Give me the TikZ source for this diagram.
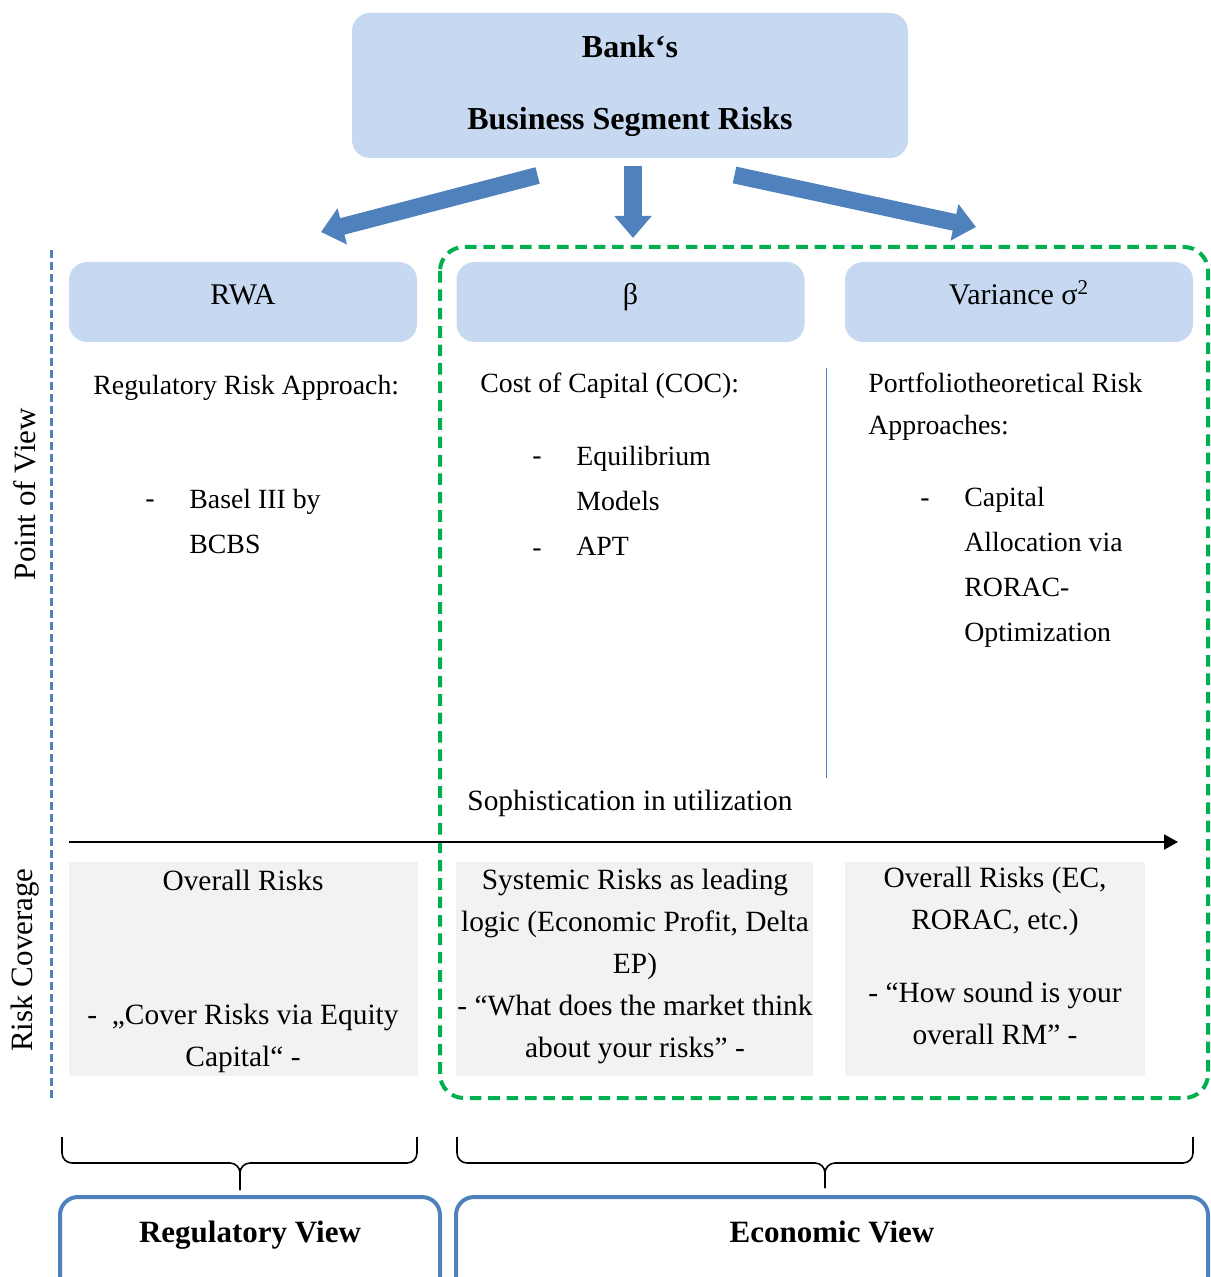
\documentclass[tikz,border=0pt]{standalone}
\usepackage{fontspec}
\setmainfont{Liberation Serif}
\usetikzlibrary{arrows.meta}
\definecolor{paleblue}{HTML}{C6D9F1}
\definecolor{steelblue}{HTML}{4F81BD}
\definecolor{dashgreen}{HTML}{00B050}
\definecolor{lightgrey}{HTML}{F2F2F2}
\newcommand{\upperfont}{\fontsize{13.9}{22.5}\selectfont}
\newcommand{\lowerfont}{\fontsize{14.7}{21}\selectfont}
\begin{document}
\begin{tikzpicture}[x=0.5pt,y=-0.5pt,
  headbox/.style={fill=paleblue,rounded corners=9pt,minimum width=174pt,minimum height=40pt,font=\fontsize{15}{18}\selectfont,text height=10pt,text depth=7pt},
  greybox/.style={fill=lightgrey,minimum height=107pt},
  viewbox/.style={draw=steelblue,line width=2pt,rounded corners=9pt},
  bigarrow/.style={steelblue,line width=8.5pt,-{Triangle[length=11pt,width=18pt]}},
  uppertxt/.style={font=\upperfont,inner sep=0pt,align=left},
  lowertxt/.style={font=\lowerfont,inner sep=0pt,align=center}]
\useasboundingbox (0,0) rectangle (1210,1277);
\clip (0,0) rectangle (1210,1277);
% top box and arrows
\node[fill=paleblue,rounded corners=9pt,minimum width=278pt,minimum height=72.5pt,font=\fontsize{16}{19}\selectfont\bfseries,align=center] (bank) at (630,85.5) {Bank‘s\\[17pt]Business Segment Risks};
\coordinate (lefttail) at (537.6,175.5);
\coordinate (lefttip) at (321,232);
\coordinate (midtail) at (633,166);
\coordinate (midtip) at (633,238);
\coordinate (righttail) at (734.5,175);
\coordinate (righttip) at (976,227);
\draw[bigarrow] (lefttail) -- (lefttip);
\draw[bigarrow,line width=9pt] (midtail) -- (midtip);
\draw[bigarrow] (righttail) -- (righttip);
% frames
\draw[steelblue,line width=1.5pt,dash pattern=on 4pt off 2pt] (51,250) -- (51,1098);
\draw[dashgreen,line width=2pt,dash pattern=on 5.8pt off 3.4pt,rounded corners=12pt] (440,247) rectangle (1208,1098);
\node[rotate=90,font=\fontsize{15.5}{18}\selectfont] (pov) at (25,494) {Point of View};
\node[rotate=90,font=\fontsize{15.5}{18}\selectfont] (cov) at (25,960) {Risk Coverage};
% header boxes
\node[headbox] (rwa) at (243,302) {RWA};
\node[headbox] (beta) at (630.5,302) {β};
\node[headbox] (var) at (1019,302) {Variance σ\textsuperscript{2}};
% approaches
\node[uppertxt,anchor=base west] (regapp) at (93,395) {Regulatory Risk Approach:};
\node[uppertxt,anchor=base west] (dash1) at (145,508) {-};
\node[uppertxt,anchor=north west] (basel) at (189,476.5) {\strut Basel III by\\BCBS};
\node[uppertxt,anchor=base west] (coc) at (480,393) {Cost of Capital (COC):};
\node[uppertxt,anchor=base west] (dash2) at (532,465) {-};
\node[uppertxt,anchor=base west] (dash3) at (532,556) {-};
\node[uppertxt,anchor=north west] (equil) at (576,433.5) {\strut Equilibrium\\Models\\APT};
\node[uppertxt,anchor=north west] (portf) at (868,360.5) {\strut Portfoliotheoretical Risk\\[-1.5pt]Approaches:};
\node[uppertxt,anchor=base west] (dash4) at (920,506) {-};
\node[uppertxt,anchor=north west] (alloc) at (964,474.5) {\strut Capital\\Allocation via\\RORAC-\\Optimization};
\draw[steelblue,line width=0.5pt] (826,368) -- (826,778);
% sophistication axis
\node[lowertxt,anchor=base west] (soph) at (467,810) {Sophistication in utilization};
\coordinate (axisstart) at (69,842);
\coordinate (axisend) at (1178,842);
\draw[line width=1pt,-{Triangle[length=7pt,width=7.5pt]}] (axisstart) -- (axisend);
% risk coverage boxes
\node[greybox,minimum width=174.5pt] (regbox) at (243.5,969) {};
\node[greybox,minimum width=178.5pt] (sysbox) at (634.5,969) {};
\node[greybox,minimum width=150pt] (ovbox) at (995,969) {};
\node[lowertxt] (regtxt1) at (243,880) {Overall Risks};
\node[lowertxt] (regtxt2) at (243,1038) {-\ \ „Cover Risks via Equity\\Capital“ -};
\node[lowertxt] (systxt) at (635,966) {Systemic Risks as leading\\logic (Economic Profit, Delta\\EP)\\- “What does the market think\\about your risks” -};
\node[lowertxt] (ovtxt1) at (995,901.5) {Overall Risks (EC,\\RORAC, etc.)};
\node[lowertxt] (ovtxt2) at (995,1013) {- “How sound is your\\overall RM” -};
% braces
\draw[line width=0.8pt,rounded corners=5pt] (62,1137) |- (240,1163) -- (240,1190);
\draw[line width=0.8pt,rounded corners=5pt] (417,1137) |- (240,1163) -- (240,1190);
\draw[line width=0.8pt,rounded corners=5pt] (457,1137) |- (825,1163) -- (825,1188);
\draw[line width=0.8pt,rounded corners=5pt] (1193,1137) |- (825,1163) -- (825,1188);
% views
\draw[viewbox] (60,1197) rectangle (440,1310);
\draw[viewbox] (456,1197) rectangle (1208,1310);
\node[font=\fontsize{15.5}{18}\selectfont\bfseries,anchor=base] (regview) at (250,1242) {Regulatory View};
\node[font=\fontsize{15.5}{18}\selectfont\bfseries,anchor=base] (ecoview) at (832,1242) {Economic View};
\end{tikzpicture}
\end{document}
